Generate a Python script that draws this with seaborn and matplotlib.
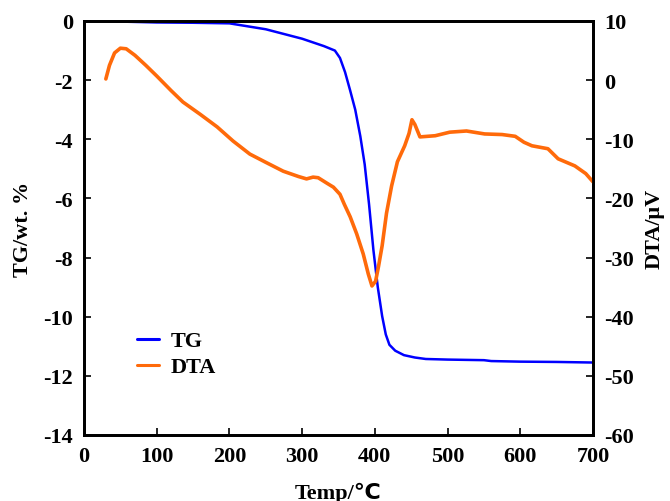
import matplotlib
matplotlib.use("Agg")
import matplotlib.pyplot as plt
import seaborn as sns
import pandas as pd
from matplotlib.lines import Line2D

sns.set_style("ticks")
plt.rcParams['font.family'] = ['Liberation Serif', 'DejaVu Sans']
plt.rcParams['font.weight'] = 'bold'
plt.rcParams['axes.unicode_minus'] = False
plt.rcParams['text.color'] = 'black'
plt.rcParams['axes.labelcolor'] = 'black'

# TG data (wt.%)
tg_temp = [30, 50, 100, 150, 200, 250, 300, 330, 345, 352, 359, 366, 373, 380, 386, 392,
           398, 404, 410, 415, 420, 428, 440, 455, 470, 500, 550, 560, 600, 650, 700]
tg_val = [0.0, -0.02, -0.05, -0.06, -0.08, -0.28, -0.6, -0.85, -1.0, -1.25, -1.73, -2.35,
          -3.0, -3.9, -4.85, -6.2, -7.75, -9.0, -9.98, -10.6, -10.95, -11.15, -11.3, -11.38,
          -11.43, -11.45, -11.47, -11.5, -11.52, -11.53, -11.55]

# DTA data (uV)
dta_temp = [30, 35, 42, 50, 58, 70, 85, 100, 120, 136, 160, 183, 205, 228, 250, 274, 295,
            306, 315, 322, 335, 343, 352, 358, 366, 375, 384, 391, 396, 401, 405, 410, 416,
            423, 431, 441, 447, 451, 455, 462, 483, 503, 526, 551, 575, 593, 605, 616, 638,
            652, 675, 690, 700]
dta_val = [0.2, 2.5, 4.6, 5.4, 5.3, 4.2, 2.5, 0.7, -1.8, -3.7, -5.8, -7.9, -10.3, -12.5,
           -13.9, -15.4, -16.3, -16.7, -16.4, -16.5, -17.5, -18.1, -19.3, -21.0, -23.1,
           -26.0, -29.4, -32.8, -34.8, -34.0, -31.5, -28.0, -22.5, -17.9, -13.8, -11.1,
           -9.0, -6.7, -7.5, -9.6, -9.4, -8.8, -8.6, -9.1, -9.2, -9.5, -10.5, -11.1, -11.6,
           -13.3, -14.5, -15.8, -17.2]

x_ticks = [0, 100, 200, 300, 400, 500, 600, 700]
tg_ticks = [0, -2, -4, -6, -8, -10, -12, -14]
dta_ticks = [10, 0, -10, -20, -30, -40, -50, -60]

tg_color = '#0000FF'
dta_color = '#FF6A0A'

fig = plt.figure(figsize=(6.7, 5.02), dpi=100)
ax = fig.add_axes([0.1254, 0.1315, 0.7597, 0.8247])
ax2 = ax.twinx()

tg_df = pd.DataFrame({'Temp': tg_temp, 'TG': tg_val})
dta_df = pd.DataFrame({'Temp': dta_temp, 'DTA': dta_val})
sns.lineplot(data=tg_df, x='Temp', y='TG', ax=ax, color=tg_color, lw=1.8, sort=False)
sns.lineplot(data=dta_df, x='Temp', y='DTA', ax=ax2, color=dta_color, lw=2.6, sort=False)

ax.set_xlim(0, 700)
ax.set_ylim(-14, 0)
ax2.set_ylim(-60, 10)
ax.set_xticks(x_ticks)
ax.set_yticks(tg_ticks)
ax2.set_yticks(dta_ticks)

fs = 16
for a in (ax, ax2):
    for s in a.spines.values():
        s.set_linewidth(2.0)
        s.set_color('black')
    a.tick_params(direction='in', length=5, width=1.2, labelsize=fs, colors='black')
    for lab in a.get_xticklabels() + a.get_yticklabels():
        lab.set_fontweight('bold')
ax.tick_params(axis='x', pad=8)
ax.tick_params(axis='y', pad=8)
ax2.tick_params(axis='y', pad=8)

ax.set_xlabel('Temp/℃', fontsize=fs, fontweight='bold', labelpad=11, color='black')
ax.set_ylabel('TG/wt. %', fontsize=fs, fontweight='bold', labelpad=7, color='black')
ax2.set_ylabel('DTA/μV', fontsize=fs, fontweight='bold', labelpad=8, color='black')

handles = [Line2D([], [], color=tg_color, lw=2.2), Line2D([], [], color=dta_color, lw=2.2)]
leg = ax.legend(handles, ['TG', 'DTA'], loc='upper left', bbox_to_anchor=(0.065, 0.3),
                frameon=False, handlelength=1.0, handletextpad=0.5, labelspacing=0.25,
                prop={'size': fs, 'weight': 'bold'})
for t in leg.get_texts():
    t.set_color('black')

fig.savefig('out.png', dpi=100)
